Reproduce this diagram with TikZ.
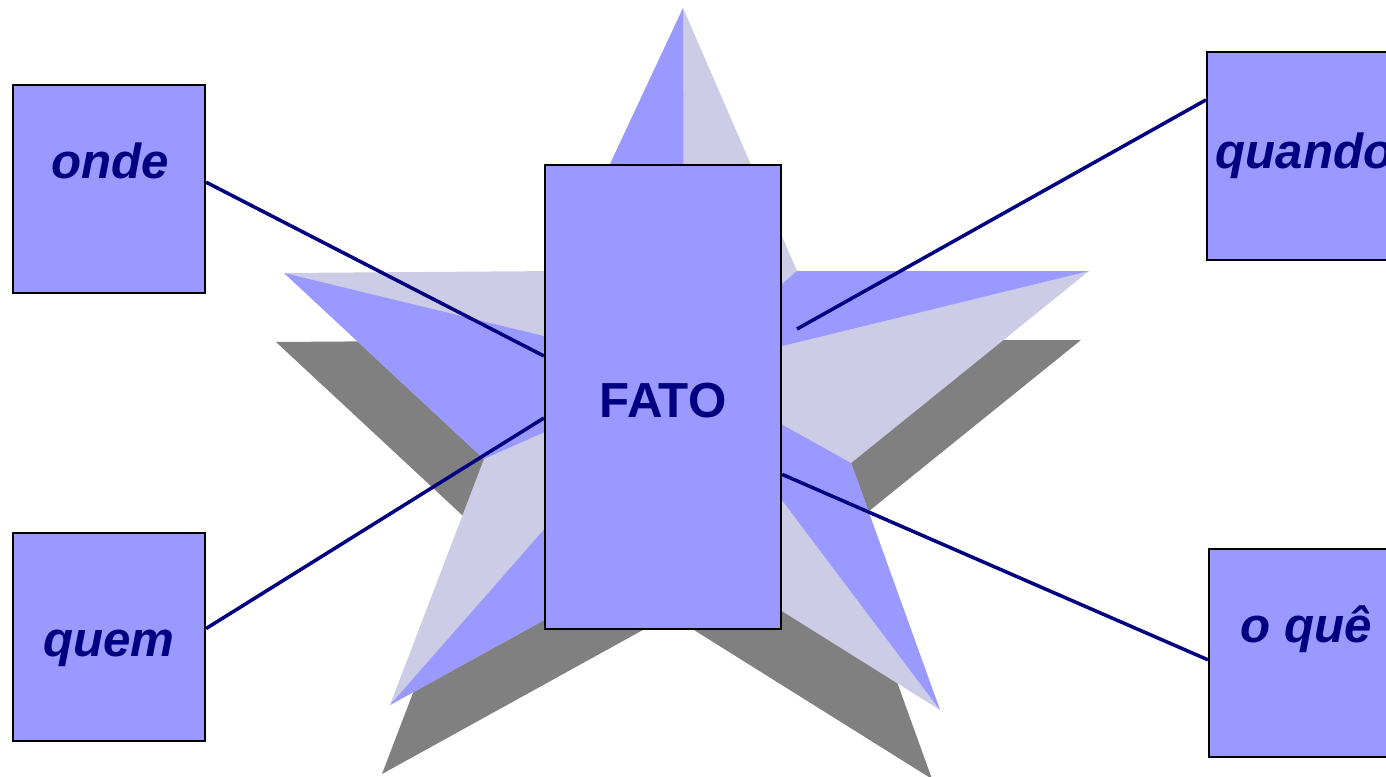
\documentclass[tikz,border=0pt]{standalone}
\usepackage{fontspec}
\setmainfont{Liberation Sans}
\definecolor{facetblue}{HTML}{9999FF}
\definecolor{facetpale}{HTML}{CCCCE6}
\definecolor{shadowgray}{HTML}{808080}
\definecolor{ink}{HTML}{000080}
\newcommand{\starpath}{(683,8) -- (797,271) -- (1089,271) -- (851,463) -- (940,710) -- (678,546) -- (390,705) -- (484,459) -- (284,273) -- (560,271) -- cycle}
\begin{document}
\begin{tikzpicture}[x=0.01cm, y=-0.01cm,
  box/.style={draw, rectangle, fill=facetblue, line width=0.6pt, minimum width=1.92cm, minimum height=2.08cm, inner sep=0pt},
  word/.style={font=\fontsize{14}{16}\selectfont\bfseries\itshape, text=ink, inner sep=0pt},
  link/.style={draw=ink, line width=1pt}]
\useasboundingbox (0,0) rectangle (1386,776);
% shadow and star
\fill[shadowgray, shift={(-8,69)}] \starpath;
\fill[facetpale] \starpath;
\coordinate (C) at (684,370);
\fill[facetblue] (C) -- (560,271) -- (683,8) -- cycle;
\fill[facetblue] (C) -- (797,271) -- (1089,271) -- cycle;
\fill[facetblue] (C) -- (851,463) -- (940,710) -- cycle;
\fill[facetblue] (C) -- (678,546) -- (390,705) -- cycle;
\fill[facetblue] (C) -- (484,459) -- (284,273) -- cycle;
% boxes
\node[box, minimum width=2.36cm, minimum height=4.64cm, text height=0.42cm, font=\fontsize{14}{16}\selectfont\bfseries, text=ink] (fato) at (663,397) {FATO};
\node[box] (onde) at (109,189) {};
\node[box] (quem) at (109,637) {};
\node[box] (quando) at (1303,156) {};
\node[box] (oque) at (1305,653) {};
\node[word, anchor=base] (onde-t) at (110,179) {onde};
\node[word, anchor=base] (quem-t) at (109,656) {quem};
\node[word, anchor=base west] (quando-t) at (1215,168) {quando};
\node[word, anchor=base] (oque-t) at (1306,642) {o quê};
% links
\coordinate (qend) at (797,329);
\draw[link] (onde.4) -- (fato.161);
\draw[link] (quem.5) -- (fato.190);
\draw[link] (quando.150) -- (qend);
\draw[link] (oque.184) -- (fato.327);
\end{tikzpicture}
\end{document}
